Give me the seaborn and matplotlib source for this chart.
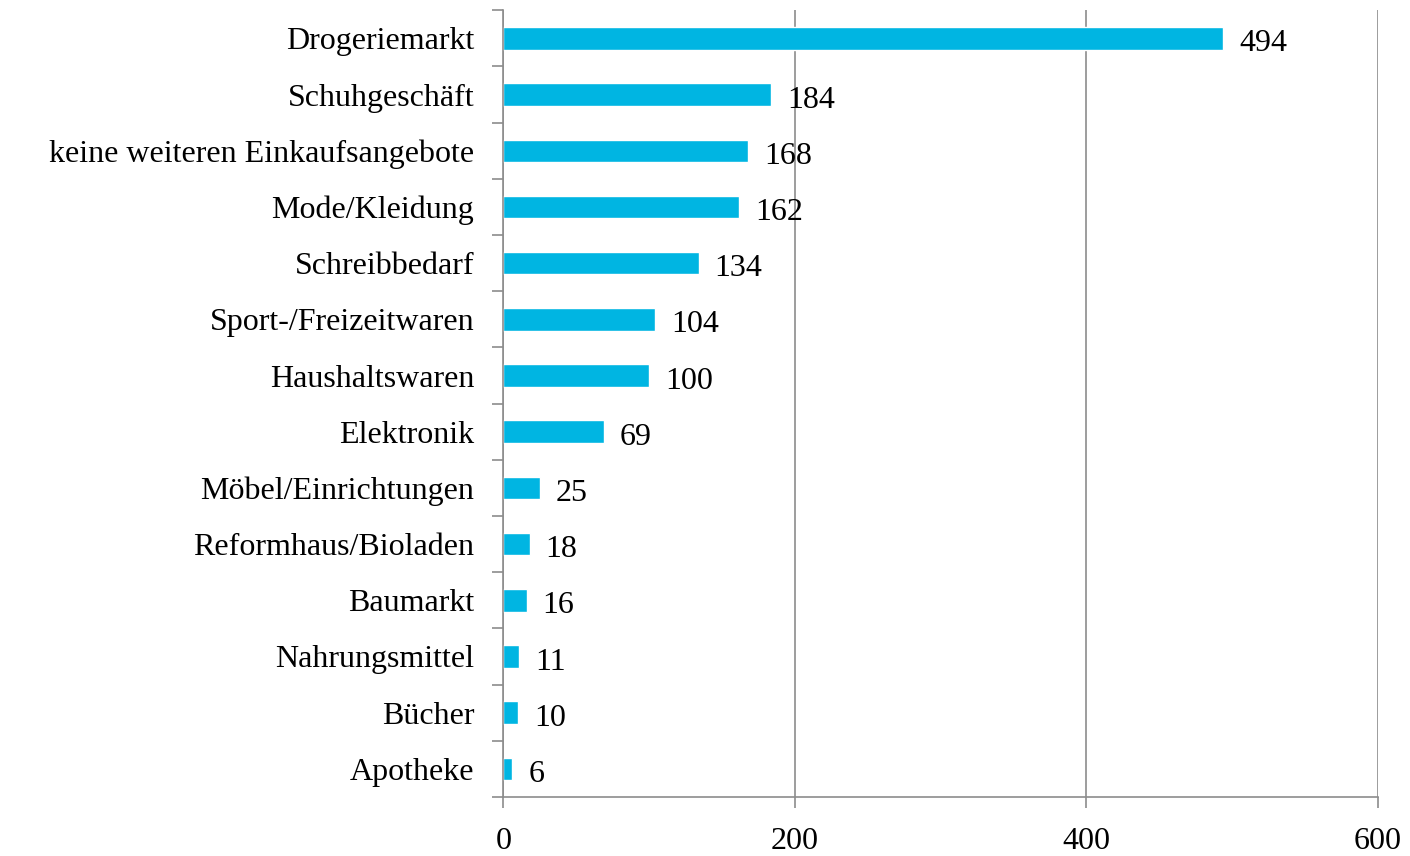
import matplotlib
matplotlib.use("Agg")
import matplotlib.pyplot as plt
import seaborn as sns
import pandas as pd

# data
categories = [
    "Drogeriemarkt", "Schuhgeschäft", "keine weiteren Einkaufsangebote",
    "Mode/Kleidung", "Schreibbedarf", "Sport-/Freizeitwaren", "Haushaltswaren",
    "Elektronik", "Möbel/Einrichtungen", "Reformhaus/Bioladen", "Baumarkt",
    "Nahrungsmittel", "Bücher", "Apotheke",
]
counts = [494, 184, 168, 162, 134, 104, 100, 69, 25, 18, 16, 11, 10, 6]
x_ticks = [0, 200, 400, 600]

df = pd.DataFrame({"Kategorie": categories, "Anzahl": counts})

sns.set_style("white")
plt.rcParams["font.family"] = ["Liberation Serif", "DejaVu Serif"]
plt.rcParams["text.color"] = "black"
plt.rcParams["xtick.color"] = "black"
plt.rcParams["ytick.color"] = "black"

BAR = "#00B5E2"
GRID = "#8c8c8c"
FS = 23

fig = plt.figure(figsize=(14.1, 8.56), dpi=100)
ax = fig.add_axes([0.357, 0.069, 0.62, 0.919])

sns.barplot(data=df, x="Anzahl", y="Kategorie", color=BAR, width=0.4,
            saturation=1, ax=ax)

ax.set_xlim(0, 600)
ax.set_ylim(len(categories) - 0.5, -0.5)
ax.set_xticks(x_ticks)
ax.set_xticklabels([str(t) for t in x_ticks], fontsize=FS)
ax.tick_params(axis="x", bottom=True, length=8, width=1.2, color=GRID,
               labelcolor="black", pad=14, direction="out")

# y ticks sit between the categories
ax.set_yticks(range(len(categories)))
ax.set_yticklabels(categories, fontsize=FS)
ax.tick_params(axis="y", which="major", left=False, length=0, pad=21,
               labelcolor="black")
ax.set_yticks([i - 0.5 for i in range(len(categories) + 1)], minor=True)
ax.tick_params(axis="y", which="minor", left=True, length=8, width=1.2,
               color=GRID, direction="out")
ax.set_xlabel("")
ax.set_ylabel("")

ax.grid(axis="x", color=GRID, linewidth=1.2)
ax.set_axisbelow(True)
for s in ["top", "right"]:
    ax.spines[s].set_visible(False)
for s in ["left", "bottom"]:
    ax.spines[s].set_color(GRID)
    ax.spines[s].set_linewidth(1.2)

for i, v in enumerate(counts):
    ax.text(v + 11, i + 0.1, str(v), va="center", ha="left", fontsize=FS)

fig.savefig("out.png", dpi=100)
